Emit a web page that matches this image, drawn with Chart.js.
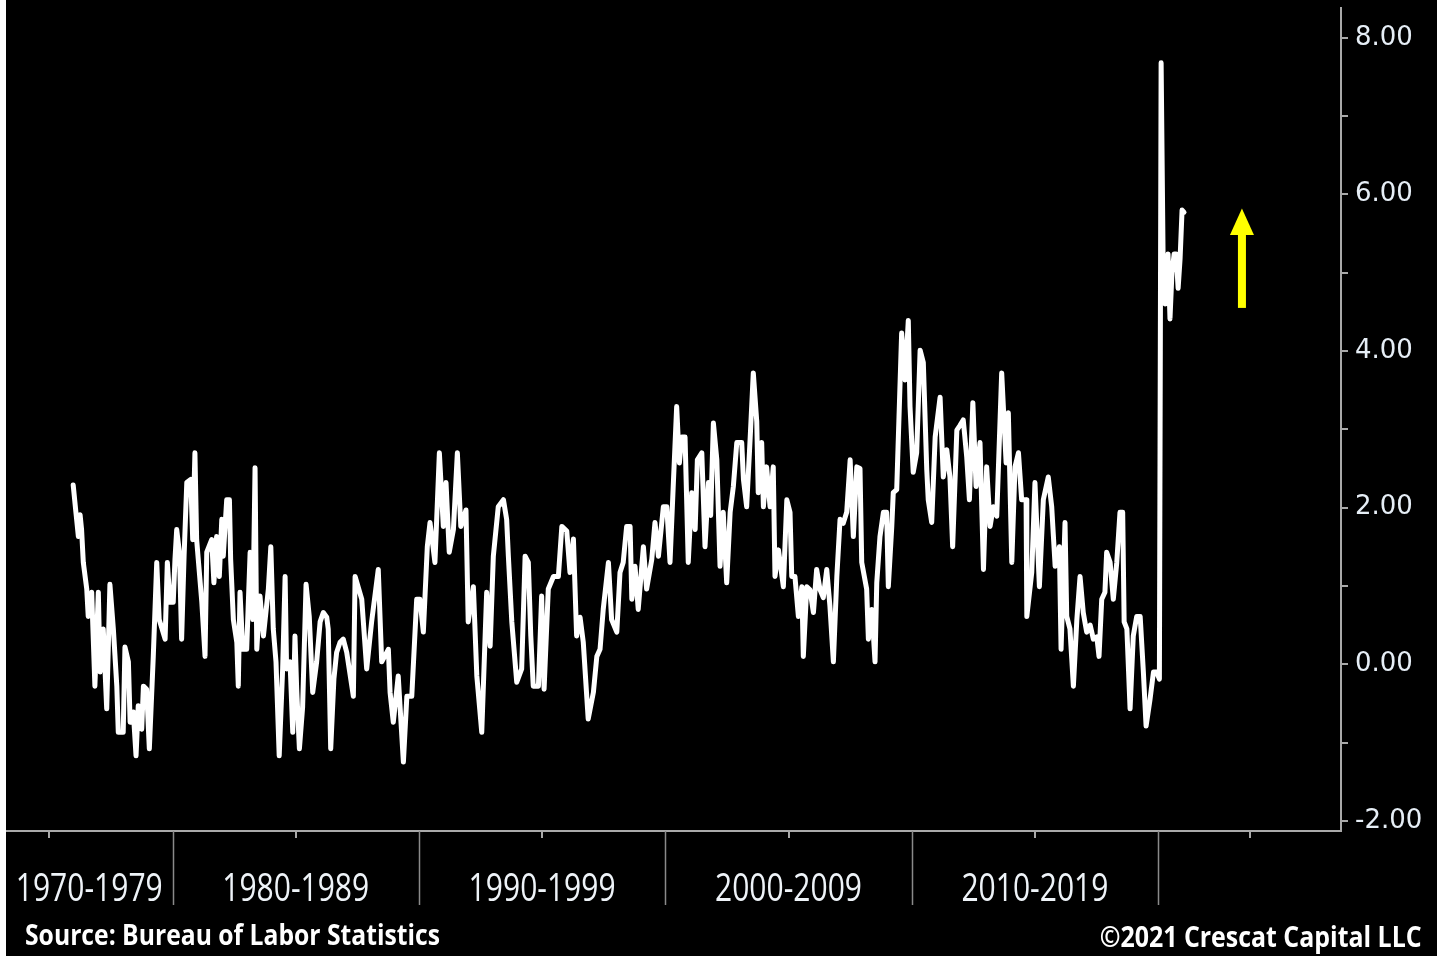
<!DOCTYPE html>
<html><head><meta charset="utf-8">
<script src="https://cdn.jsdelivr.net/npm/chart.js@4/dist/chart.umd.min.js"></script>
<style>
html,body{margin:0;padding:0;background:#fff;width:1446px;height:956px;overflow:hidden;}
#wrap{position:absolute;left:6px;top:0;width:1431px;height:956px;background:#000;}
canvas{display:block;}
.foot{position:absolute;color:#fff;font-family:"Open Sans","Noto Sans",sans-serif;font-weight:bold;font-size:29px;line-height:1;white-space:nowrap;}
#src{left:19px;top:919px;transform-origin:0 50%;}
#copy{right:15px;top:921px;transform-origin:100% 50%;}
</style></head>
<body>
<div id="wrap">
<canvas id="c" width="1431" height="956"></canvas>
<div class="foot" id="src">Source: Bureau of Labor Statistics</div>
<div class="foot" id="copy">©2021 Crescat Capital LLC</div>
</div>
<script>
const years = [
1975.97,1976.08,1976.18,1976.25,1976.31,1976.38,1976.52,1976.58,1976.72,1976.85,1976.99,1977.06,1977.19,1977.33,1977.46,1977.60,1977.74,1977.80,1978.00,1978.07,1978.21,1978.28,1978.41,1978.52,1978.61,1978.75,1978.82,1978.95,1979.06,1979.22,1979.36,1979.46,1979.70,1979.79,1979.90,
1980.03,1980.10,1980.17,1980.28,1980.37,1980.47,1980.58,1980.74,1980.82,1980.91,1980.98,1981.19,1981.32,1981.39,1981.59,1981.68,1981.79,1981.90,1982.00,1982.06,1982.20,1982.31,1982.36,1982.47,1982.61,1982.67,1982.74,1982.85,1983.01,1983.15,1983.26,1983.35,1983.42,1983.55,1983.69,1983.89,1983.99,1984.09,1984.20,1984.33,1984.47,1984.57,1984.63,1984.77,1984.88,1984.97,1985.04,1985.15,1985.28,1985.42,1985.55,1985.69,1985.85,1985.99,1986.12,1986.26,1986.32,1986.42,1986.55,1986.66,1986.80,1986.93,
1987.07,1987.34,1987.41,1987.68,1987.88,1988.08,1988.35,1988.49,1988.76,1988.83,1988.96,1989.16,1989.37,1989.51,1989.71,1989.91,
1990.04,1990.18,1990.34,1990.45,1990.65,1990.83,1990.99,1991.10,1991.23,1991.40,1991.56,1991.70,1991.91,1992.00,1992.21,1992.35,1992.55,1992.75,1992.89,1993.02,1993.22,1993.43,1993.56,1993.63,1993.77,1993.97,1994.17,1994.31,1994.44,1994.54,1994.64,1994.85,1994.98,1995.08,1995.25,1995.46,1995.66,1995.80,1996.00,1996.13,1996.27,1996.40,1996.54,1996.67,1996.87,1997.08,1997.22,1997.35,1997.48,1997.69,1997.82,1998.03,1998.16,
1998.29,1998.43,1998.57,1998.64,1998.77,1998.90,1999.11,1999.24,1999.45,1999.58,1999.72,1999.92,
2000.06,2000.19,2000.32,2000.46,2000.57,2000.67,2000.80,2000.93,2001.07,2001.21,2001.30,2001.48,2001.61,2001.75,2001.84,2001.95,2002.09,2002.22,2002.35,2002.49,2002.63,2002.76,2002.90,2003.10,2003.17,2003.30,2003.44,2003.57,2003.71,2003.77,2003.91,2003.98,2004.11,2004.25,2004.38,2004.45,2004.59,2004.79,2004.93,2005.06,2005.13,2005.26,2005.40,2005.54,2005.60,2005.74,2005.87,2006.01,2006.14,2006.28,2006.41,2006.55,2006.68,2006.82,2006.96,2007.09,2007.22,2007.36,2007.50,2007.63,2007.77,2007.90,2007.97,2008.17,2008.24,2008.38,2008.51,2008.58,2008.71,2008.85,2008.98,2009.05,2009.19,2009.25,2009.39,2009.59,
2009.73,2009.86,2009.93,2010.06,2010.20,2010.34,2010.47,2010.61,2010.67,2010.81,2010.95,2011.15,2011.28,2011.42,2011.55,2011.66,2011.83,2011.96,2012.09,2012.23,2012.34,2012.48,2012.61,2012.77,2012.91,2013.04,2013.18,2013.31,2013.45,2013.65,2013.83,2013.92,2014.06,2014.19,2014.33,2014.46,2014.64,2014.67,2014.87,2015.00,2015.18,2015.34,2015.54,2015.68,2015.82,2015.99,2016.06,2016.22,2016.29,2016.42,2016.56,2016.70,2016.83,2016.96,2017.10,2017.24,2017.37,2017.51,2017.60,2017.71,2017.84,2017.91,2018.05,2018.18,2018.32,2018.45,2018.56,2018.62,2018.73,2018.86,2018.99,2019.13,2019.27,2019.40,2019.51,2019.67,2019.81,2019.94,2020.05,
2020.12,2020.20,2020.28,2020.40,2020.48,2020.56,2020.65,2020.73,2020.81,2020.89,2020.97,2021.05
];
const values = [
2.29,1.94,1.63,1.91,1.72,1.30,0.96,0.61,0.92,-0.28,0.92,-0.10,0.45,-0.57,1.02,0.45,-0.28,-0.87,-0.87,0.22,0.03,-0.74,-0.61,-1.17,-0.53,-0.83,-0.28,-0.32,-1.08,0.10,1.30,0.57,0.32,1.30,0.79,
0.79,1.34,1.72,1.43,0.32,1.38,2.32,2.36,1.59,2.70,1.59,0.79,0.10,1.43,1.59,1.04,1.63,1.12,1.85,1.38,2.10,2.10,1.34,0.57,0.28,-0.28,0.92,0.19,0.19,1.43,0.57,2.51,0.19,0.87,0.36,0.96,1.50,0.45,0.03,-1.17,-0.06,1.12,-0.06,0.03,-0.87,0.36,-0.32,-1.08,-0.55,1.02,0.61,-0.36,0.03,0.54,0.66,0.60,0.45,-1.08,-0.19,0.15,0.28,0.32,
0.15,-0.41,1.12,0.83,-0.06,0.54,1.21,0.03,0.19,-0.36,-0.74,-0.15,-1.25,-0.41,-0.41,0.83,
0.83,0.41,1.50,1.81,1.30,2.70,1.76,2.32,1.43,1.72,2.70,1.76,1.97,0.54,0.99,-0.15,-0.87,0.92,0.23,1.38,2.01,2.10,1.85,1.38,0.54,-0.23,-0.06,1.38,1.30,0.36,-0.28,-0.28,0.87,-0.32,0.96,1.12,1.12,1.76,1.70,1.17,1.60,0.36,0.60,0.28,-0.70,-0.36,0.10,0.19,0.70,1.30,0.57,0.41,1.17,
1.30,1.76,1.76,0.83,1.25,0.70,1.50,0.96,1.34,1.81,1.38,2.01,
2.01,1.30,2.27,3.29,2.57,2.90,2.90,1.30,2.19,1.72,2.61,2.70,1.50,2.32,1.90,3.08,2.61,1.25,1.94,1.04,1.94,2.27,2.83,2.83,2.36,2.01,2.87,3.72,3.10,2.19,2.83,2.01,2.52,2.01,2.52,1.12,1.46,0.99,2.10,1.94,1.12,1.12,0.61,0.99,0.10,0.99,0.95,0.66,1.21,0.95,0.85,1.21,0.74,0.03,1.12,1.85,1.80,1.94,2.61,1.63,2.52,2.50,1.30,0.96,0.32,0.70,0.03,1.04,1.63,1.94,1.94,0.99,1.76,2.19,2.23,4.23,
3.63,4.39,3.29,2.45,2.70,4.01,3.85,2.48,2.10,1.81,2.90,3.41,2.39,2.74,2.39,1.50,2.99,3.05,3.12,2.65,2.10,3.34,2.27,2.83,1.21,2.52,1.76,2.01,1.89,3.72,2.57,3.21,1.30,2.52,2.70,2.10,2.10,0.61,1.17,2.32,0.99,2.10,2.39,2.01,1.25,1.50,0.19,1.81,0.61,0.45,-0.28,0.57,1.12,0.66,0.41,0.50,0.32,0.35,0.10,0.83,0.92,1.43,1.30,0.83,1.30,1.94,1.94,0.54,0.45,-0.57,0.36,0.61,0.61,-0.10,-0.79,-0.45,-0.10,-0.10,-0.19,
7.68,5.20,4.60,5.24,4.41,5.00,5.24,5.24,4.80,5.18,5.80,5.77
];
const yTickValues = [-2,-1,0,1,2,3,4,5,6,7,8];
const yTickLabels = ['-2.00','','0.00','','2.00','','4.00','','6.00','','8.00'];
const decadeLabels = ['1970-1979','1980-1989','1990-1999','2000-2009','2010-2019'];
const decadeBounds = [1980,1990,2000,2010,2020];
const midTicks = [1975,1985,1995,2005,2015,2023.71];
const xMin = 1973.243, xMax = 2027.42;
const yMin = -2.13, yMax = 8.38;
const arrowX = 2023.4, arrowBase = 4.55, arrowHeadBase = 5.48, arrowTip = 5.82;

const labelPos = decadeLabels.map((_, i) => i === 0 ? (xMin + decadeBounds[0]) / 2 : decadeBounds[i - 1] + 5);
const AXIS = '#a9a9a9';
const XFONT = '500 39px "Open Sans","Noto Sans",sans-serif';
const XLABEL_W = 147;

const decor = {
  id: 'decor',
  afterDraw(chart) {
    const ctx = chart.ctx, xs = chart.scales.x, ys = chart.scales.y, b = chart.chartArea.bottom;
    ctx.save();
    ctx.strokeStyle = '#8a8a8a';
    ctx.lineWidth = 1.5;
    decadeBounds.forEach(v => {
      const px = Math.round(xs.getPixelForValue(v)) + 0.5;
      ctx.beginPath(); ctx.moveTo(px, b); ctx.lineTo(px, b + 74); ctx.stroke();
    });
    ctx.strokeStyle = AXIS;
    ctx.lineWidth = 2;
    midTicks.forEach(v => {
      const px = Math.round(xs.getPixelForValue(v));
      ctx.beginPath(); ctx.moveTo(px, b); ctx.lineTo(px, b + 7); ctx.stroke();
    });
    // decade labels, placed through the x scale
    ctx.font = XFONT;
    ctx.fillStyle = '#eef3f8';
    ctx.textAlign = 'center';
    ctx.textBaseline = 'alphabetic';
    decadeLabels.forEach((t, i) => {
      const px = xs.getPixelForValue(labelPos[i]);
      const sx = XLABEL_W / ctx.measureText(t).width;
      ctx.save(); ctx.translate(px, b + 70); ctx.scale(sx, 1); ctx.fillText(t, 0, 0); ctx.restore();
    });
    // arrow
    const ax = xs.getPixelForValue(arrowX);
    const yb = ys.getPixelForValue(arrowBase), yh = ys.getPixelForValue(arrowHeadBase), yt = ys.getPixelForValue(arrowTip);
    ctx.fillStyle = '#ffff00';
    ctx.fillRect(ax - 4, yh - 1, 8, yb - yh + 1);
    ctx.beginPath(); ctx.moveTo(ax - 12, yh); ctx.lineTo(ax + 12, yh); ctx.lineTo(ax, yt); ctx.closePath(); ctx.fill();
    ctx.restore();
  }
};

new Chart(document.getElementById('c'), {
  type: 'line',
  data: {
    datasets: [{
      data: years.map((x, i) => ({ x, y: values[i] })),
      borderColor: '#ffffff',
      borderWidth: 5,
      borderJoinStyle: 'round',
      borderCapStyle: 'round',
      pointRadius: 0,
      tension: 0,
      fill: false
    }]
  },
  options: {
    responsive: false,
    devicePixelRatio: 1,
    animation: false,
    events: [],
    layout: { padding: { top: 8, left: 0, right: 0, bottom: 0 } },
    plugins: { legend: { display: false }, tooltip: { enabled: false } },
    scales: {
      x: {
        type: 'linear', min: xMin, max: xMax,
        afterBuildTicks: s => { s.ticks = labelPos.map(v => ({ value: v })); },
        afterFit: s => { s.height = 125; s.paddingLeft = 0; s.paddingRight = 0; },
        grid: { display: false, drawTicks: false },
        border: { display: true, color: AXIS, width: 2 },
        ticks: { display: false }
      },
      y: {
        position: 'right', min: yMin, max: yMax,
        afterBuildTicks: s => { s.ticks = yTickValues.map(v => ({ value: v })); },
        afterFit: s => { s.width = 96; s.paddingTop = 0; s.paddingBottom = 0; },
        grid: { display: true, drawOnChartArea: false, drawTicks: true, tickLength: 7, color: AXIS, lineWidth: 2 },
        border: { display: true, color: AXIS, width: 2 },
        ticks: {
          autoSkip: false, padding: 7,
          color: '#e6eef6',
          font: { family: '"DejaVu Sans",sans-serif', size: 26 },
          callback: (v, i) => yTickLabels[i]
        }
      }
    }
  },
  plugins: [decor]
});

// fit the footer texts to the widths they have in the picture
[['src', 415], ['copy', 322]].forEach(([id, w]) => {
  const el = document.getElementById(id);
  el.style.transform = 'scaleX(' + (w / el.getBoundingClientRect().width) + ')';
});
</script>
</body></html>
